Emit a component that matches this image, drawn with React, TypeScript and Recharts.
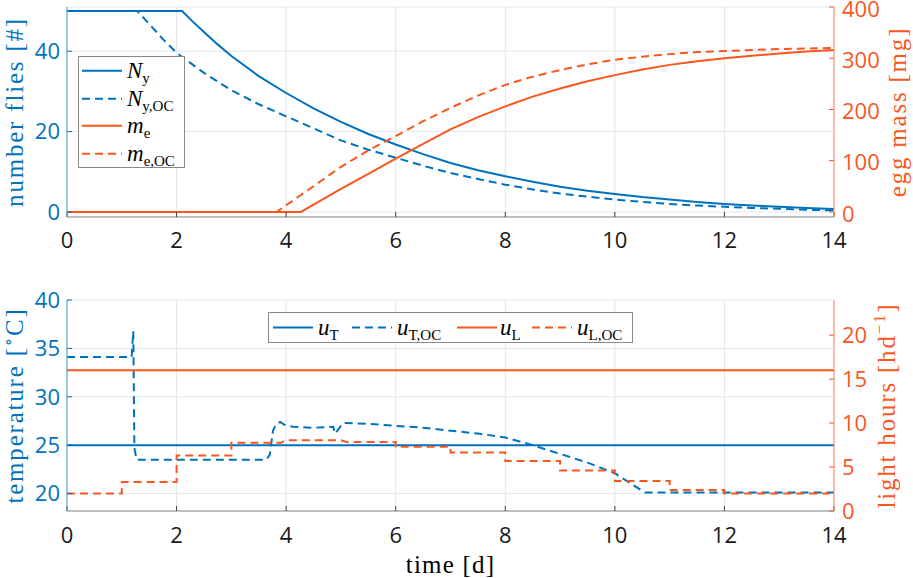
import React from 'react';
import { LineChart, Line, XAxis, YAxis, CartesianGrid, Legend } from 'recharts';

const BLUE = '#0072BD';
const ORANGE = '#FA561E';
const SERIF = '"Liberation Serif", "DejaVu Serif", serif';
const SANS = '"Open Sans", "Noto Sans", sans-serif';

// ---- ticks ----
const timeTicks = [0, 2, 4, 6, 8, 10, 12, 14];
const fliesTicks = [0, 20, 40];
const eggTicks = [0, 100, 200, 300, 400];
const tempTicks = [20, 25, 30, 35, 40];
const lightTicks = [0, 5, 10, 15, 20];

// ---- top panel: number of flies / egg mass ----
const nyTime = [0, 2.1, 2.3, 2.5, 2.75, 3, 3.5, 4, 4.5, 5, 5.5, 6, 6.5, 7, 7.5, 8, 8.5, 9, 9.5, 10, 10.5, 11, 11.5, 12, 12.5, 13, 13.5, 14];
const nyValues = [50, 50, 47.3, 44.8, 41.7, 38.8, 33.8, 29.6, 25.8, 22.4, 19.4, 16.8, 14.4, 12.2, 10.4, 8.9, 7.5, 6.3, 5.3, 4.5, 3.7, 3.1, 2.5, 2.0, 1.6, 1.3, 1.0, 0.75];

const nyOcTime = [0, 1.28, 1.5, 1.75, 2, 2.5, 3, 3.5, 4, 4.5, 5, 5.5, 6, 6.5, 7, 7.5, 8, 8.5, 9, 9.5, 10, 10.5, 11, 11.5, 12, 12.5, 13, 13.5, 14];
const nyOcValues = [50, 50, 46.8, 43, 39.6, 34.6, 30.3, 26.8, 23.8, 20.8, 17.8, 15.5, 13.5, 11.5, 9.7, 8.2, 6.8, 5.6, 4.6, 3.8, 3.1, 2.5, 2.0, 1.6, 1.3, 1.0, 0.8, 0.55, 0.4];

const meTime = [0, 4.27, 4.5, 5, 5.5, 6, 6.5, 7, 7.5, 8, 8.5, 9, 9.5, 10, 10.5, 11, 11.5, 12, 12.5, 13, 13.5, 14];
const meValues = [0, 0, 14, 45, 74, 104, 133, 161, 185, 206, 225, 241, 255, 267, 278, 287, 294, 300, 305, 309, 313, 316];

const meOcTime = [0, 3.83, 4, 4.5, 5, 5.5, 6, 6.5, 7, 7.5, 8, 8.5, 9, 9.5, 10, 10.5, 11, 11.5, 12, 12.5, 13, 13.5, 14];
const meOcValues = [0, 0, 13, 50, 88, 120, 148, 177, 203, 227, 248, 264, 277, 288, 297, 303, 308, 312, 314, 316, 318, 319, 320];

// ---- bottom panel: temperature / light hours ----
const uTTime = [0, 14];
const uTValues = [25, 25];

const uTOcTime = [0, 1.18, 1.21, 1.23, 1.27, 3.64, 3.7, 3.76, 3.82, 3.89, 3.97, 4.13, 4.5, 4.86, 4.89, 4.95, 5.04, 5.5, 6, 6.5, 7, 7.5, 8, 8.5, 9, 9.5, 10, 10.3, 10.55, 14];
const uTOcValues = [34.1, 34.1, 36.8, 24.7, 23.5, 23.5, 24.0, 26.5, 27.2, 27.4, 27.1, 26.9, 26.8, 26.9, 26.2, 26.6, 27.3, 27.2, 27.0, 26.8, 26.5, 26.2, 25.8, 25.0, 24.1, 23.2, 22.1, 21.0, 20.1, 20.1];

const uLTime = [0, 14];
const uLValues = [16, 16];

const uLOcTime = [0, 1, 1, 2, 2, 3, 3, 3.9, 4, 5, 5.1, 6, 6, 7, 7, 8, 8, 9, 9, 10, 10, 11, 11, 12, 12, 14];
const uLOcValues = [2.0, 2.0, 3.3, 3.3, 6.3, 6.3, 7.75, 7.75, 8.05, 8.05, 7.85, 7.85, 7.3, 7.3, 6.65, 6.65, 5.7, 5.7, 4.6, 4.6, 3.4, 3.4, 2.4, 2.4, 2.0, 2.0];

// ---- legend labels ----
const topLegendMain = ['N', 'N', 'm', 'm'];
const topLegendSub = ['y', 'y,OC', 'e', 'e,OC'];
const topLegendColor = [BLUE, BLUE, ORANGE, ORANGE];
const topLegendDashed = [false, true, false, true];

const bottomLegendMain = ['u', 'u', 'u', 'u'];
const bottomLegendSub = ['T', 'T,OC', 'L', 'L,OC'];
const bottomLegendColor = [BLUE, BLUE, ORANGE, ORANGE];
const bottomLegendDashed = [false, true, false, true];

type Pt = { t: number; v: number };
const rows = (ts: number[], vs: number[]): Pt[] => ts.map((t, i) => ({ t, v: vs[i] }));

const DASH = '8 5';
const tickFont = (fill: string, dy = 0) => ({ fill, fontSize: 22, fontFamily: SANS, dy });

function MathText({ main, sub }: { main: string; sub: string }) {
  return (
    <span style={{ fontFamily: SERIF, fontSize: 23, color: '#000', whiteSpace: 'nowrap', lineHeight: 1 }}>
      <span style={{ fontStyle: 'italic' }}>{main}</span>
      <span style={{ fontSize: 15, position: 'relative', top: 5 }}>{sub}</span>
    </span>
  );
}

function TopLegendBox() {
  return (
    <div style={{ width: 107, height: 112, boxSizing: 'border-box', border: '1px solid #8a8a8a', background: '#fff', position: 'relative' }}>
      {topLegendMain.map((m, i) => (
        <div key={i} style={{ position: 'absolute', left: 0, top: i * 27.5, height: 27.5, display: 'flex', alignItems: 'center' }}>
          <svg width={48} height={27.5} style={{ display: 'block' }}>
            <line x1={3} x2={43} y1={13.75} y2={13.75} stroke={topLegendColor[i]} strokeWidth={2}
              strokeDasharray={topLegendDashed[i] ? DASH : undefined} />
          </svg>
          <MathText main={m} sub={topLegendSub[i]} />
        </div>
      ))}
    </div>
  );
}

const bottomSampleX = [4, 83, 188, 263];
const bottomTextX = [49, 128, 231, 308];

function BottomLegendBox() {
  return (
    <div style={{ width: 365, height: 31, boxSizing: 'border-box', border: '1px solid #8a8a8a', background: '#fff', position: 'relative' }}>
      <svg width={363} height={29} style={{ position: 'absolute', left: 0, top: 0 }}>
        {bottomLegendMain.map((_, i) => (
          <line key={i} x1={bottomSampleX[i]} x2={bottomSampleX[i] + 40} y1={14.5} y2={14.5}
            stroke={bottomLegendColor[i]} strokeWidth={2} strokeDasharray={bottomLegendDashed[i] ? DASH : undefined} />
        ))}
      </svg>
      {bottomLegendMain.map((m, i) => (
        <div key={i} style={{ position: 'absolute', left: bottomTextX[i], top: 0, height: 29, display: 'flex', alignItems: 'center' }}>
          <MathText main={m} sub={bottomLegendSub[i]} />
        </div>
      ))}
    </div>
  );
}

function YTitle(props: any) {
  const { viewBox, baseX, tcolor, parts } = props;
  const x = viewBox.x + baseX;
  const y = viewBox.y + viewBox.height / 2;
  return (
    <text x={x} y={y} transform={`rotate(-90 ${x} ${y})`} textAnchor="middle" fill={tcolor}
      fontFamily={SERIF} fontSize={25} letterSpacing={1.8}>
      {parts}
    </text>
  );
}

function XTitle(props: any) {
  const { viewBox } = props;
  const x = viewBox.x + viewBox.width / 2;
  const y = viewBox.y + 62;
  return (
    <text x={x} y={y} textAnchor="middle" fill="#000" fontFamily={SERIF} fontSize={25} letterSpacing={1.2}>
      time [d]
    </text>
  );
}

const AXIS_GRAY = '#8c8c8c';
const TICK_GRAY = '#404040';
const BLUE_AXIS = '#3f9fe0';
const ORANGE_AXIS = '#ff8a64';
const VGRID = '#e3e5e8';
const HGRID = '#dde9f4';

function TopChart() {
  return (
    <LineChart width={913} height={270} margin={{ top: 7, right: 0, bottom: 13, left: 0 }}>
      <CartesianGrid horizontal={false} vertical stroke={VGRID} />
      <CartesianGrid horizontal vertical={false} stroke={HGRID} />
      <XAxis dataKey="t" type="number" domain={[0, 14]} ticks={timeTicks} allowDataOverflow interval={0}
        height={40} tickSize={-5} tickMargin={20} tick={tickFont('#1a1a1a')}
        tickLine={{ stroke: TICK_GRAY }} axisLine={{ stroke: AXIS_GRAY }} />
      <XAxis xAxisId="top" orientation="top" dataKey="t" type="number" domain={[0, 14]} ticks={timeTicks}
        allowDataOverflow interval={0} height={0} tickSize={-5} tick={false}
        tickLine={{ stroke: TICK_GRAY }} axisLine={{ stroke: AXIS_GRAY }} />
      <YAxis type="number" domain={[-1.25, 51]} ticks={fliesTicks} allowDataOverflow interval={0} width={67}
        tickSize={-5} tickMargin={12} tick={tickFont(BLUE)} tickLine={{ stroke: BLUE }} axisLine={{ stroke: BLUE_AXIS }}
        label={<YTitle baseX={23} tcolor={BLUE} parts="number flies [#]" />} />
      <YAxis yAxisId="right" orientation="right" type="number" domain={[-10, 400]} ticks={eggTicks} allowDataOverflow
        interval={0} width={79} tickSize={-5} tickMargin={13} tick={tickFont(ORANGE, 2)} tickLine={{ stroke: ORANGE }}
        axisLine={{ stroke: ORANGE_AXIS }}
        label={<YTitle baseX={72} tcolor={ORANGE} parts="egg mass [mg]" />} />
      <Line data={rows(nyTime, nyValues)} dataKey="v" type="linear" stroke={BLUE} strokeWidth={2} dot={false} isAnimationActive={false} />
      <Line data={rows(nyOcTime, nyOcValues)} dataKey="v" type="linear" stroke={BLUE} strokeWidth={2} strokeDasharray={DASH} dot={false} isAnimationActive={false} />
      <Line yAxisId="right" data={rows(meTime, meValues)} dataKey="v" type="linear" stroke={ORANGE} strokeWidth={2} dot={false} isAnimationActive={false} />
      <Line yAxisId="right" data={rows(meOcTime, meOcValues)} dataKey="v" type="linear" stroke={ORANGE} strokeWidth={2} strokeDasharray={DASH} dot={false} isAnimationActive={false} />
      <Legend verticalAlign="middle" align="center" layout="horizontal"
        wrapperStyle={{ left: 78, top: 56, width: 107, height: 112 }} content={() => <TopLegendBox />} />
    </LineChart>
  );
}

function BottomChart() {
  const tempParts = (
    <>
      {'temperature ['}
      <tspan dy={-9} fontSize={17}>{'∘'}</tspan>
      <tspan dy={9}>{'C]'}</tspan>
    </>
  );
  const lightParts = (
    <>
      {'light hours [hd'}
      <tspan dy={-10} fontSize={17}>{'−1'}</tspan>
      <tspan dy={10}>{']'}</tspan>
    </>
  );
  return (
    <LineChart width={913} height={293} margin={{ top: 15, right: 0, bottom: 0, left: 0 }}>
      <CartesianGrid horizontal={false} vertical stroke={VGRID} />
      <CartesianGrid horizontal vertical={false} stroke={HGRID} />
      <XAxis dataKey="t" type="number" domain={[0, 14]} ticks={timeTicks} allowDataOverflow interval={0}
        height={67} tickSize={-5} tickMargin={21} tick={tickFont('#1a1a1a')}
        tickLine={{ stroke: TICK_GRAY }} axisLine={{ stroke: AXIS_GRAY }} label={<XTitle />} />
      <XAxis xAxisId="top" orientation="top" dataKey="t" type="number" domain={[0, 14]} ticks={timeTicks}
        allowDataOverflow interval={0} height={0} tickSize={-5} tick={false}
        tickLine={{ stroke: TICK_GRAY }} axisLine={{ stroke: AXIS_GRAY }} />
      <YAxis type="number" domain={[18.2, 40]} ticks={tempTicks} allowDataOverflow interval={0} width={67}
        tickSize={-5} tickMargin={12} tick={tickFont(BLUE)} tickLine={{ stroke: BLUE }} axisLine={{ stroke: BLUE_AXIS }}
        label={<YTitle baseX={23} tcolor={BLUE} parts={tempParts} />} />
      <YAxis yAxisId="right" orientation="right" type="number" domain={[0, 24]} ticks={lightTicks} allowDataOverflow
        interval={0} width={79} tickSize={-5} tickMargin={13} tick={tickFont(ORANGE)} tickLine={{ stroke: ORANGE }}
        axisLine={{ stroke: ORANGE_AXIS }}
        label={<YTitle baseX={61} tcolor={ORANGE} parts={lightParts} />} />
      <Line data={rows(uTTime, uTValues)} dataKey="v" type="linear" stroke={BLUE} strokeWidth={2} dot={false} isAnimationActive={false} />
      <Line data={rows(uTOcTime, uTOcValues)} dataKey="v" type="linear" stroke={BLUE} strokeWidth={2} strokeDasharray={DASH} dot={false} isAnimationActive={false} />
      <Line yAxisId="right" data={rows(uLTime, uLValues)} dataKey="v" type="linear" stroke={ORANGE} strokeWidth={2} dot={false} isAnimationActive={false} />
      <Line yAxisId="right" data={rows(uLOcTime, uLOcValues)} dataKey="v" type="linear" stroke={ORANGE} strokeWidth={2} strokeDasharray={DASH} dot={false} isAnimationActive={false} />
      <Legend verticalAlign="middle" align="center" layout="horizontal"
        wrapperStyle={{ left: 268, top: 27, width: 365, height: 31 }} content={() => <BottomLegendBox />} />
    </LineChart>
  );
}

export default function App() {
  return (
    <div style={{ position: 'absolute', left: 0, top: 0, width: 913, height: 578, background: '#fff', overflow: 'hidden' }}>
      <div style={{ position: 'absolute', left: 0, top: 0 }}>
        <TopChart />
      </div>
      <div style={{ position: 'absolute', left: 0, top: 285 }}>
        <BottomChart />
      </div>
    </div>
  );
}
